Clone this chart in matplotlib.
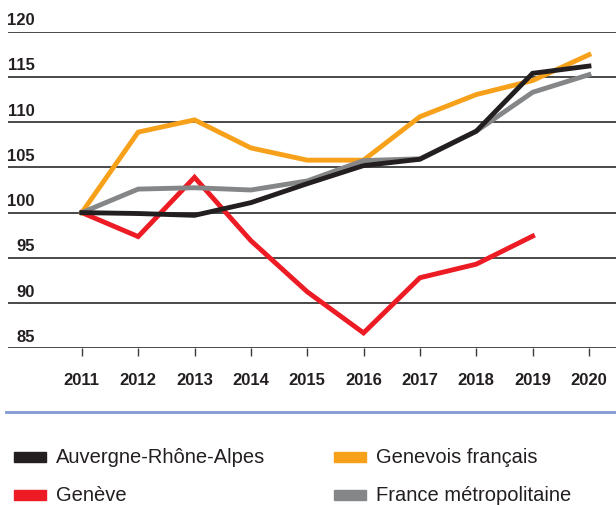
import matplotlib.pyplot as plt
from matplotlib.patches import Rectangle
from matplotlib.transforms import blended_transform_factory

plt.rcParams['font.family'] = ['Liberation Sans', 'DejaVu Sans']

years = [2011, 2012, 2013, 2014, 2015, 2016, 2017, 2018, 2019, 2020]
auvergne = [100, 99.9, 99.7, 101.1, 103.2, 105.2, 105.9, 109.0, 115.4, 116.2]
geneve = [100, 97.35, 103.9, 96.9, 91.25, 86.7, 92.8, 94.3, 97.4]
genevois = [100, 108.9, 110.25, 107.15, 105.8, 105.8, 110.6, 113.05, 114.6, 117.45]
france = [100, 102.6, 102.75, 102.5, 103.5, 105.75, 105.95, 109.0, 113.3, 115.25]
y_ticks = [85, 90, 95, 100, 105, 110, 115, 120]

series = [
    ("Auvergne-Rhône-Alpes", auvergne, "#231f20"),
    ("Genève", geneve, "#ed1c24"),
    ("Genevois français", genevois, "#f7a11a"),
    ("France métropolitaine", france, "#858688"),
]

W, H = 616, 506
fig = plt.figure(figsize=(W / 100, H / 100), dpi=100)
ax = fig.add_axes([8 / W, (H - 349.3) / H, 1 - 8 / W, (349.3 - 32.7) / H])

# grid lines drawn as horizontal lines
for v in y_ticks:
    ax.axhline(v, color="#3a3a3a", lw=1.3, zorder=1)

for name, vals, col in [series[1], series[2], series[3], series[0]]:
    ax.plot(years[:len(vals)], vals, color=col, lw=3.5, solid_joinstyle="miter",
            zorder=3)

ax.set_ylim(85, 120)
ax.set_xlim(2009.69, 2020.48)
for s in ax.spines.values():
    s.set_visible(False)
ax.set_yticks([])
ax.set_xticks(years)
ax.set_xticklabels([str(y) for y in years], fontsize=12, fontweight="bold",
                   color="#231f20")
ax.tick_params(axis="x", length=6, width=1, color="#3a3a3a", pad=11)

trans = blended_transform_factory(fig.transFigure, ax.transData)
for v in y_ticks:
    ax.text(35 / W, v + 0.5, str(v), transform=trans, ha="right", va="bottom",
            fontsize=12, fontweight="bold", color="#231f20")

# separator line
fig.add_artist(plt.Line2D([6 / W, 1], [(H - 413.3) / H] * 2, color="#7f9bd0",
                          lw=2, transform=fig.transFigure))

# legend
positions = [(14, 458), (14, 496), (334, 458), (334, 496)]
for (name, vals, col), (px, py) in zip(series, positions):
    fig.add_artist(Rectangle((px / W, (H - py - 5) / H), 32 / W, 10 / H,
                             color=col, transform=fig.transFigure))
    fig.text((px + 42) / W, (H - py) / H, name, fontsize=14.5, va="center",
             ha="left", color="#231f20")

fig.savefig("out.png", dpi=100)
